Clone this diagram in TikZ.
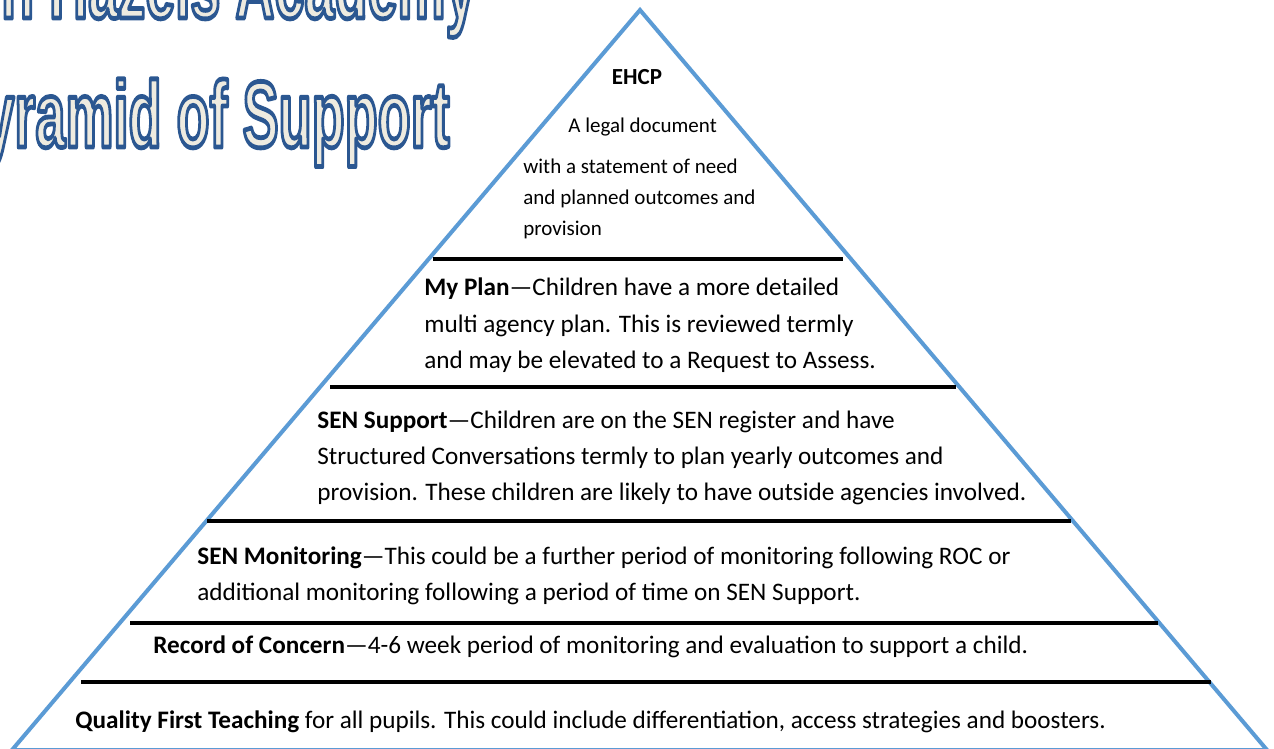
\documentclass[tikz,border=0pt]{standalone}
\usepackage{fontspec}
\setmainfont{Carlito}
\newfontfamily\titlefont{Liberation Sans}
\definecolor{pyrBlue}{RGB}{91,155,213}
\definecolor{titleFill}{RGB}{238,235,224}
\colorlet{background}{white}
% outlined heading letters: fill and stroke, stroke in dark blue
\newcommand\outlined[1]{\special{pdf:literal 2 Tr 2.4 w 1 j 0.17 0.34 0.57 RG}#1\special{pdf:literal 0 Tr}}
\tikzset{
  tier/.style={anchor=base west, inner sep=0pt, font=\fontsize{12.6}{15}\selectfont},
  small/.style={anchor=base west, inner sep=0pt, font=\fontsize{10.5}{13}\selectfont},
  divider/.style={black, line width=1.75pt},
  title/.style={anchor=base east, inner sep=0pt, xscale=0.575, text=titleFill,
    font=\titlefont\bfseries\fontsize{47}{50}\selectfont}
}

\begin{document}
\begin{tikzpicture}[x=0.5pt,y=-0.5pt]
    \clip (0,0) rectangle (1274,749);
    \fill[background] (0,0) rectangle (1274,749);
      % heading, cut by the page edge
      \node[title] (head1) at (476,18) {\outlined{n Hazels Academy}};
      \node[title] (head2) at (450,147) {\outlined{Pyramid of Support}};
      % the pyramid
      \coordinate (apex) at (640,10);
      \coordinate (L) at (12,750);
      \coordinate (R) at (1267,750);
        \draw[pyrBlue, line width=2pt] (L) -- (apex) -- (R) -- cycle;
      % tiers
        \draw[divider] (433,259) -- (843,259);
        \draw[divider] (330,387) -- (956,387);
        \draw[divider] (207,521) -- (1071,521);
        \draw[divider] (130,623) -- (1158,623);
        \draw[divider] (81,682) -- (1211,682);
      % EHCP
      \node[anchor=base, inner sep=0pt, font=\fontsize{11.5}{14}\selectfont\bfseries] (ehcp) at (637,85) {EHCP};
      \node[small] (ehcp1) at (568,133) {A legal document};
      \node[small] (ehcp2) at (523,173) {with a statement of need};
      \node[small] (ehcp3) at (523,204) {and planned outcomes and};
      \node[small] (ehcp4) at (523,235) {provision};
      % My Plan
      \node[tier] (plan1) at (424,295) {\textbf{My Plan}---Children have a more detailed};
      \node[tier] (plan2) at (424,332) {multi agency plan. This is reviewed termly};
      \node[tier] (plan3) at (424,368) {and may be elevated to a Request to Assess.};
      % SEN Support
      \node[tier] (sup1) at (317,428) {\textbf{SEN Support}---Children are on the SEN register and have};
      \node[tier] (sup2) at (317,464) {Structured Conversations termly to plan yearly outcomes and};
      \node[tier] (sup3) at (317,500) {provision. These children are likely to have outside agencies involved.};
      % SEN Monitoring
      \node[tier] (mon1) at (197,564) {\textbf{SEN Monitoring}---This could be a further period of monitoring following ROC or};
      \node[tier] (mon2) at (197,600) {additional monitoring following a period of time on SEN Support.};
      % Record of Concern
      \node[tier] (roc) at (153,653) {\textbf{Record of Concern}---4-6 week period of monitoring and evaluation to support a child.};
      % Quality First Teaching
      \node[tier] (qft) at (75,728) {\textbf{Quality First Teaching} for all pupils. This could include differentiation, access strategies and boosters.};
\end{tikzpicture}
\end{document}
